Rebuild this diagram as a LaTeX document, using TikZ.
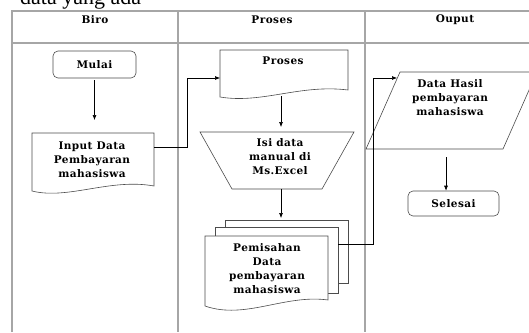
\documentclass[tikz,border=0pt]{standalone}
\usepackage{fontspec}
\setmainfont[LetterSpace=4]{DejaVu Serif}
\newfontfamily\pagefont{Liberation Serif}
\usetikzlibrary{arrows.meta}

\tikzset{
  lane/.style={draw=gray!70,line width=1.1pt},
  box/.style={draw=black!70,fill=white,line width=0.6pt},
  term/.style={box,rounded corners=5pt,font=\boxfont},
  txt/.style={font=\boxfont,align=center,inner sep=0pt},
  arr/.style={-{Latex[length=5pt,width=4pt]},line width=0.6pt},
}
\newcommand{\boxfont}{\fontsize{10.5}{14}\selectfont\bfseries}

\begin{document}
\begin{tikzpicture}[x=1pt,y=-1pt]
            \useasboundingbox (0,0) rectangle (529,332);
            \clip (0,0) rectangle (529,332);

            % text above the table
            \node[font=\pagefont\fontsize{22}{24}\selectfont,anchor=base west,inner sep=0pt] (judul) at (20,5) {data yang ada};

            % swimlanes
            \draw[lane] (12,332) -- (12,11) -- (540,11);
            \draw[lane] (12,43) -- (540,43);
            \draw[lane] (178,11) -- (178,332);
            \draw[lane] (365,11) -- (365,332);
            \node[txt] (biro) at (95,20) {Biro};
            \node[txt] (proses) at (272,20) {Proses};
            \node[txt] (ouput) at (455,20) {Ouput};

            % Biro
            \node[term,minimum width=83pt,minimum height=27pt] (mulai) at (94.5,64.5) {Mulai};
            \draw[box] (32,133) -- (154,133) -- (154,186)
                .. controls (110,178) and (68,200) .. (32,191) -- cycle;
            \node[txt] (input) at (92,160) {Input Data\\Pembayaran\\mahasiswa};
            \coordinate (inputT) at (94.5,133);
            \coordinate (inputR) at (154,147);

            % Proses
            \draw[box] (220,50) -- (348,50) -- (348,90)
                .. controls (300,84) and (262,104) .. (220,97) -- cycle;
            \node[txt] (prosesdoc) at (283,61) {Proses};
            \coordinate (prosesL) at (220,78);
            \coordinate (prosesB) at (281,96);

            \draw[box] (200,132) -- (354,132) -- (322,189) -- (232,189) -- cycle;
            \node[txt] (manual) at (280,157) {Isi data\\manual di\\Ms.Excel};
            \coordinate (manualT) at (281,132);
            \coordinate (manualB) at (281,189);

            \draw[box] (225,220) rectangle (348,283);
            \draw[box] (215,227) rectangle (338,293);
            \draw[box] (205,236) -- (328,236) -- (328,300)
                .. controls (285,294) and (245,320) .. (205,306) -- cycle;
            \node[txt] (pisah) at (267,269) {Pemisahan\\Data\\pembayaran\\mahasiswa};
            \coordinate (pisahT) at (281,220);
            \coordinate (pisahR) at (338,244);

            % Ouput
            \draw[box] (400,72) -- (537,72) -- (503,149) -- (366,149) -- cycle;
            \node[txt] (hasil) at (450,98) {Data Hasil\\pembayaran\\mahasiswa};
            \coordinate (hasilL) at (397,78);
            \coordinate (hasilB) at (446,149);
            \node[term,minimum width=91pt,minimum height=25pt] (selesai) at (453.5,203.5) {Selesai};

            % arrows
            \draw[arr,shorten <=2pt,shorten >=13pt] (mulai.south) -- (inputT);
            \draw[arr] (inputR) -- ++(33,0) |- (prosesL);
            \draw[arr,shorten >=5pt] (prosesB) -- (manualT);
            \draw[arr,shorten >=2pt] (manualB) -- (pisahT);
            \draw[arr] (pisahR) -- ++(35,0) |- (hasilL);
            \draw[arr,shorten <=8pt] (hasilB) -- (hasilB |- selesai.north);
        \end{tikzpicture}
\end{document}
